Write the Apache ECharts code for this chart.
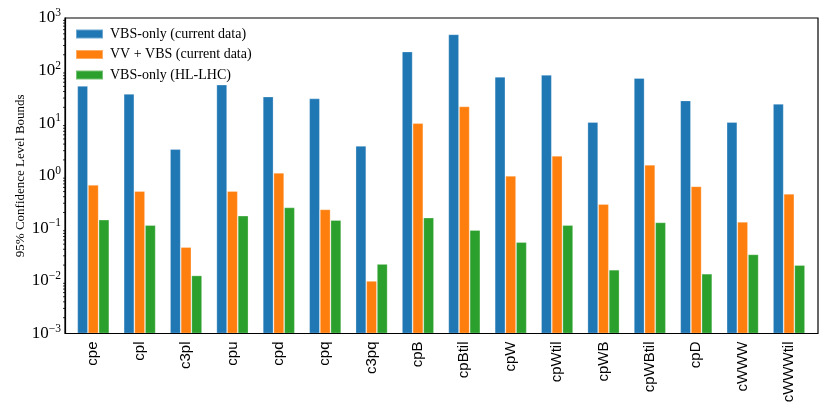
<!DOCTYPE html>
<html><head><meta charset="utf-8">
<script src="https://cdn.jsdelivr.net/npm/echarts@6/dist/echarts.min.js"></script>
<style>html,body{margin:0;padding:0;background:#fff}#c{width:830px;height:415px}</style>
</head><body><div id="c"></div>
<script>
const categories = ['cpe','cpl','c3pl','cpu','cpd','cpq','c3pq','cpB','cpBtil','cpW','cpWtil','cpWB','cpWBtil','cpD','cWWW','cWWWtil'];
const vbsCurrent = [51, 36, 3.2, 54, 32, 29.5, 3.7, 230, 490, 76, 83, 10.5, 72, 27, 10.5, 23.3];
const vvVbsCurrent = [0.67, 0.51, 0.044, 0.51, 1.14, 0.23, 0.010, 10, 20.8, 1.0, 2.4, 0.29, 1.62, 0.63, 0.133, 0.455];
const vbsHLLHC = [0.146, 0.115, 0.0127, 0.174, 0.25, 0.144, 0.021, 0.16, 0.093, 0.055, 0.115, 0.0163, 0.13, 0.0137, 0.032, 0.020];
const seriesNames = ['VBS-only (current data)', 'VV + VBS (current data)', 'VBS-only (HL-LHC)'];
const yMin = 0.001, yMax = 1000;

const minorTicks = [];
for (let e = -3; e < 3; e++) for (let m = 2; m <= 9; m++) minorTicks.push([0, m * Math.pow(10, e)]);

const serif = 'Liberation Serif';
const chart = echarts.init(document.getElementById('c'), null, {renderer: 'canvas'});
const colors = ['#1f77b4', '#ff7f0e', '#2ca02c'];
const barSeries = [vbsCurrent, vvVbsCurrent, vbsHLLHC].map((d, i) => ({
  name: seriesNames[i], type: 'bar', data: d, xAxisIndex: 1, yAxisIndex: 1,
  barWidth: '23%', barGap: '0%', barCategoryGap: '31%',
  itemStyle: {color: colors[i], borderColor: 'rgba(255,255,255,0.35)', borderWidth: 0.8},
  emphasis: {disabled: true}
}));
const logY = {type: 'log', logBase: 10, min: yMin, max: yMax, startValue: yMin};
chart.setOption({
  animation: false,
  color: colors,
  grid: [
    {left: 65, right: 12, top: 18, bottom: 81.5, show: true, borderColor: '#000', borderWidth: 1.2, z: 10},
    {left: 70.1, right: 17.8, top: 18, bottom: 81.5, show: false}
  ],
  legend: {
    data: seriesNames, orient: 'vertical', left: 75, top: 27, padding: 0,
    itemWidth: 27, itemHeight: 9, itemGap: 6.5, icon: 'rect',
    textStyle: {fontFamily: serif, fontSize: 14, color: '#000', padding: [0,0,0,2]}
  },
  xAxis: [
    {type: 'category', gridIndex: 0, data: categories, show: false},
    {
      type: 'category', gridIndex: 1, data: categories,
      axisLine: {show: false},
      axisTick: {alignWithLabel: true, length: 4, lineStyle: {color: '#000'}},
      axisLabel: {rotate: 90, fontFamily: 'Liberation Sans', fontSize: 15, color: '#000', margin: 8, interval: 0}
    }
  ],
  yAxis: [
    Object.assign({}, logY, {
      gridIndex: 0,
      name: '95% Confidence Level Bounds', nameLocation: 'middle', nameGap: 38, nameMoveOverlap: false,
      nameTextStyle: {fontFamily: serif, fontSize: 13, color: '#000'},
      axisLine: {show: true, lineStyle: {color: '#000', width: 1.2}},
      axisTick: {length: 3.5, lineStyle: {color: '#000'}},
      splitLine: {show: false},
      axisLabel: {
        margin: 4, color: '#000',
        formatter: v => {
          const e = Math.round(Math.log10(v));
          return '{b|10}{s|' + (e < 0 ? '\u2212' + (-e) : e) + '}';
        },
        rich: {
          b: {fontFamily: serif, fontSize: 17, color: '#000'},
          s: {fontFamily: serif, fontSize: 11.5, color: '#000', padding: [0, 0, 10, 0]}
        }
      }
    }),
    Object.assign({}, logY, {gridIndex: 1, show: false})
  ],
  series: barSeries.concat([{
    type: 'custom', silent: true, data: minorTicks, z: 5, xAxisIndex: 0, yAxisIndex: 0,
    renderItem: (params, api) => {
      const p = api.coord([0, api.value(1)]);
      const x0 = params.coordSys.x;
      return {type: 'line', shape: {x1: x0, y1: p[1], x2: x0 - 2, y2: p[1]}, style: {stroke: '#000', lineWidth: 0.8}};
    }
  }])
});
</script></body></html>
